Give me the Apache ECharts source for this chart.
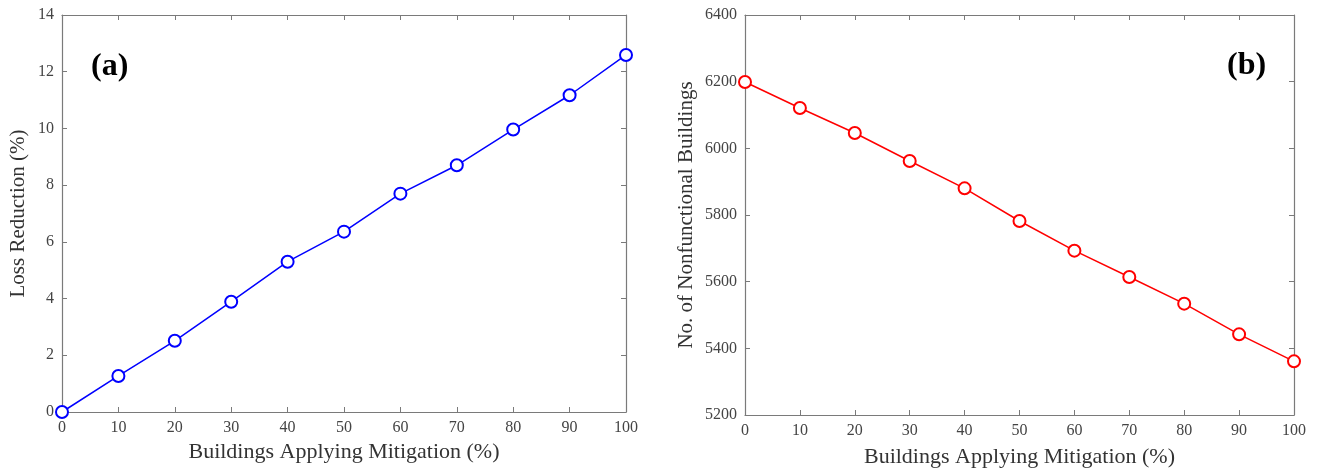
<!DOCTYPE html>
<html>
<head>
<meta charset="utf-8">
<script src="https://cdn.jsdelivr.net/npm/echarts@6/dist/echarts.min.js"></script>
<style>html,body{margin:0;padding:0;background:#fff}#c{width:1317px;height:468px}</style>
</head>
<body>
<div id="c"></div>
<script>
const mitigation = [0, 10, 20, 30, 40, 50, 60, 70, 80, 90, 100];
const lossReduction = [0, 1.27, 2.51, 3.89, 5.30, 6.36, 7.70, 8.70, 9.96, 11.17, 12.59];
const nonfunctional = [6199, 6121, 6046, 5962, 5880, 5782, 5693, 5614, 5534, 5442, 5361];
const xTitle = 'Buildings Applying Mitigation (%)';
const yTitleA = 'Loss Reduction (%)';
const yTitleB = 'No. of Nonfunctional Buildings';

const FONT = '"Liberation Serif", "DejaVu Serif", serif';
const axisColor = '#7a7a7a';
const labelColor = '#444';

function xAx(gi, pos, show, gap) {
  return {
    type: 'value', gridIndex: gi, position: pos, min: 0, max: 100, interval: 10,
    name: show ? xTitle : '', nameLocation: 'middle', nameGap: gap || 29,
    nameTextStyle: {fontFamily: FONT, fontSize: 22, color: '#333'},
    axisLine: {show: true, onZero: false, lineStyle: {color: axisColor, width: 1.2}},
    axisTick: {show: true, inside: true, length: 5, lineStyle: {color: axisColor}},
    axisLabel: {show: show, fontFamily: FONT, fontSize: 16, color: labelColor, margin: 8,
                formatter: v => String(v)},
    splitLine: {show: false}
  };
}
function yAx(gi, pos, show, min, max, interval, name, gap) {
  return {
    type: 'value', gridIndex: gi, position: pos, min: min, max: max, interval: interval,
    name: show ? name : '', nameLocation: 'middle', nameGap: gap,
    nameTextStyle: {fontFamily: FONT, fontSize: 21, color: '#333'},
    axisLine: {show: true, onZero: false, lineStyle: {color: axisColor, width: 1.2}},
    axisTick: {show: true, inside: true, length: 5, lineStyle: {color: axisColor}},
    axisLabel: {show: show, fontFamily: FONT, fontSize: 16, color: labelColor, margin: 8,
                formatter: v => String(v)},
    splitLine: {show: false}
  };
}

const chart = echarts.init(document.getElementById('c'));
chart.setOption({
  animation: false,
  backgroundColor: '#fff',
  title: [
    {text: '(a)', left: 86, top: 46, textStyle: {fontFamily: FONT, fontSize: 32, fontWeight: 'bold', color: '#000'}},
    {text: '(b)', left: 1222, top: 45, textStyle: {fontFamily: FONT, fontSize: 32, fontWeight: 'bold', color: '#000'}}
  ],
  grid: [
    {left: 62, top: 15, width: 564, height: 397, containLabel: false, outerBoundsMode: 'none'},
    {left: 745, top: 15, width: 549, height: 400, containLabel: false, outerBoundsMode: 'none'}
  ],
  xAxis: [xAx(0, 'bottom', true, 29), xAx(0, 'top', false), xAx(1, 'bottom', true, 31), xAx(1, 'top', false)],
  yAxis: [
    yAx(0, 'left', true, 0, 14, 2, yTitleA, 33), yAx(0, 'right', false, 0, 14, 2, '', 0),
    yAx(1, 'left', true, 5200, 6400, 200, yTitleB, 48), yAx(1, 'right', false, 5200, 6400, 200, '', 0)
  ],
  series: [
    {type: 'line', xAxisIndex: 0, yAxisIndex: 0, data: mitigation.map((x, i) => [x, lossReduction[i]]),
     symbol: 'emptyCircle', symbolSize: 12, lineStyle: {color: '#0000ff', width: 1.5},
     itemStyle: {color: '#0000ff', borderColor: '#0000ff', borderWidth: 1.5}, clip: false},
    {type: 'line', xAxisIndex: 2, yAxisIndex: 2, data: mitigation.map((x, i) => [x, nonfunctional[i]]),
     symbol: 'emptyCircle', symbolSize: 12, lineStyle: {color: '#ff0000', width: 1.5},
     itemStyle: {color: '#ff0000', borderColor: '#ff0000', borderWidth: 1.5}, clip: false}
  ]
});
</script>
</body>
</html>
